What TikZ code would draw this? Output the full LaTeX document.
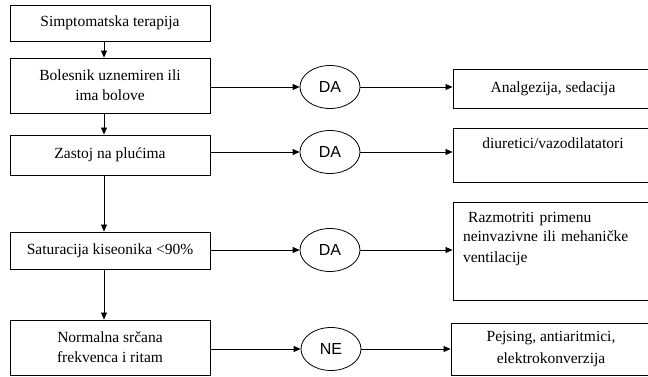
\documentclass[tikz,border=0pt]{standalone}
\usepackage{fontspec}
\setmainfont{Liberation Serif}
\newfontfamily\ellfont{Liberation Sans}
\usetikzlibrary{arrows.meta,shapes.geometric}
\begin{document}
\begin{tikzpicture}[x=1pt,y=-1pt,
  every node/.style={font=\fontsize{15.5}{20}\selectfont},
  stepbox/.style={draw,line width=0.9pt,rectangle,minimum width=200pt,align=center,inner sep=0pt},
  resbox/.style={draw,line width=0.9pt,rectangle,minimum width=200pt,inner xsep=0pt,inner ysep=3pt},
  answer/.style={draw,line width=0.8pt,ellipse,minimum width=60pt,minimum height=43pt,inner sep=0pt,
    font=\ellfont\fontsize{16}{18}\selectfont},
  flow/.style={line width=0.8pt,-{Triangle[length=7pt,width=6pt]}}]
\clip (0,0) rectangle (648,377);
\fill[white] (0,0) rectangle (648,377);

% main chain of questions
\node[stepbox,minimum height=36pt] (b1) at (110,23) {Simptomatska terapija};
\node[stepbox,minimum height=55pt] (b2) at (110,85.5) {Bolesnik uznemiren ili\\ima bolove};
\node[stepbox,minimum height=40pt] (b3) at (110,155) {Zastoj na plućima};
\node[stepbox,minimum height=37pt] (b4) at (110,250.5) {Saturacija kiseonika <90\%};
\node[stepbox,minimum height=55pt] (b5) at (110,347.5) {Normalna srčana\\frekvenca i ritam};

% answers
\node[answer] (e1) at (330,87) {DA};
\node[answer] (e2) at (330,152) {DA};
\node[answer] (e3) at (330,250) {DA};
\node[answer] (e4) at (331,349) {NE};

% resulting measures
\node[resbox,minimum height=39pt] (r1) at (553,88.5) {Analgezija, sedacija};
\node[resbox,text height=18pt,text depth=30pt] (r2) at (553,155) {diuretici/vazodilatatori};
\node[resbox,text height=17pt,text depth=75pt,text width=180pt,inner xsep=10pt,align=left] (r3) at (553,251)
  {\ Razmotriti primenu\\neinvazivne ili mehaničke\\ventilacije};
\node[resbox,minimum height=52pt,align=center,font=\fontsize{15.5}{22}\selectfont] (r4) at (551,349)
  {Pejsing, antiaritmici,\\elektrokonverzija};

% vertical flow
\foreach \a/\b in {b1/b2,b2/b3,b3/b4,b4/b5}
  \draw[flow] ([xshift=-6pt]\a.south) -- ([xshift=-6pt]\b.north);

% horizontal flow
\foreach \b/\e/\r in {b2/e1/r1,b3/e2/r2,b4/e3/r3,b5/e4/r4}{
  \draw[flow] (\b.east |- \e) -- (\e.west);
  \draw[flow] (\e.east) -- (\e -| \r.west);
}
\end{tikzpicture}
\end{document}
